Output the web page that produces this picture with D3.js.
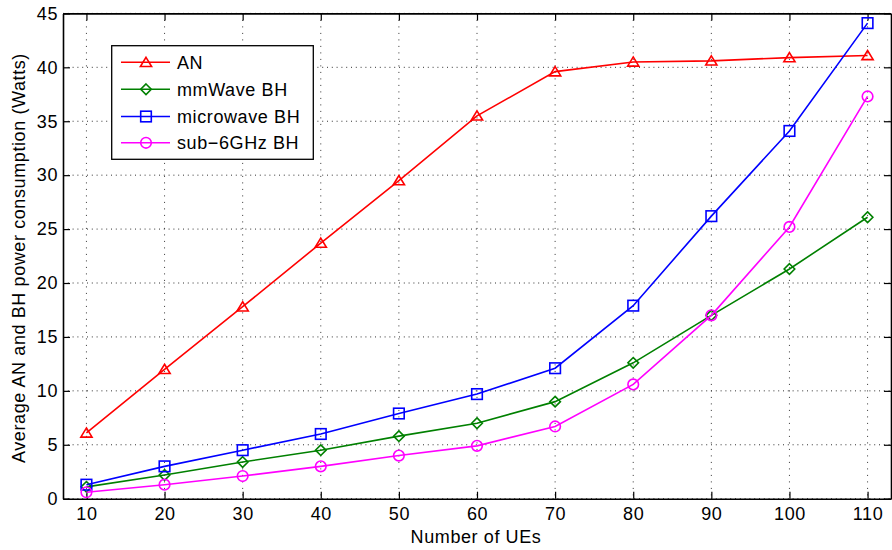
<!DOCTYPE html>
<html>
<head>
<meta charset="utf-8">
<script src="https://cdn.jsdelivr.net/npm/d3@7"></script>
<style>
  html, body { margin: 0; padding: 0; background: #fff; }
  svg { display: block; }
  text { font-family: "Liberation Sans", Arial, Helvetica, sans-serif; font-size: 18px; letter-spacing: 0.6px; fill: #000; }
</style>
</head>
<body>
<svg id="chart" width="892" height="550"></svg>
<script>
// Number of users on the x axis
const ues = [10, 20, 30, 40, 50, 60, 70, 80, 90, 100, 110];

// Average power consumption (Watts) for each curve
const anPower        = [6.1, 12.0, 17.8, 23.7, 29.5, 35.5, 39.6, 40.5, 40.6, 40.9, 41.1];
const mmWavePower    = [1.1, 2.2, 3.4, 4.5, 5.8, 7.0, 9.0, 12.6, 17.0, 21.3, 26.1];
const microwavePower = [1.3, 3.0, 4.5, 6.0, 7.9, 9.7, 12.1, 17.9, 26.2, 34.1, 44.1];
const sub6Power      = [0.6, 1.3, 2.1, 3.0, 4.0, 4.9, 6.7, 10.6, 17.0, 25.2, 37.3];

const seriesNames = ["AN", "mmWave BH", "microwave BH", "sub\u22126GHz BH"];
const xTicks = [10, 20, 30, 40, 50, 60, 70, 80, 90, 100, 110];
const yTicks = [0, 5, 10, 15, 20, 25, 30, 35, 40, 45];

const series = [
  { name: seriesNames[0], values: anPower,        color: "#ff0000", marker: "triangle" },
  { name: seriesNames[1], values: mmWavePower,    color: "#008000", marker: "diamond" },
  { name: seriesNames[2], values: microwavePower, color: "#0000ff", marker: "square" },
  { name: seriesNames[3], values: sub6Power,      color: "#ff00ff", marker: "circle" }
];

const svg = d3.select("#chart");
const plot = { left: 63, right: 891, top: 13.4, bottom: 498.7 };

const x = d3.scaleLinear().domain([7, 113]).range([plot.left, plot.right]);
const y = d3.scaleLinear().domain([0, 45]).range([plot.bottom, plot.top]);

// dotted grid
const grid = svg.append("g").attr("class", "grid");
grid.selectAll("line.gx").data(xTicks).join("line")
  .attr("x1", d => x(d)).attr("x2", d => x(d))
  .attr("y1", plot.top).attr("y2", plot.bottom)
  .attr("stroke", "#333").attr("stroke-width", 1)
  .attr("stroke-dasharray", "1,5.5");
grid.selectAll("line.gy").data(yTicks).join("line")
  .attr("x1", plot.left).attr("x2", plot.right)
  .attr("y1", d => y(d)).attr("y2", d => y(d))
  .attr("stroke", "#333").attr("stroke-width", 1)
  .attr("stroke-dasharray", "1,3.8");

// axes on all four sides, ticks pointing inward
const tickLen = -7;
const axisStyle = g => {
  g.attr("font-size", null).attr("font-family", null);
  g.select(".domain").attr("stroke", "#000").attr("stroke-width", 1.6);
  g.selectAll(".tick line").attr("stroke", "#000").attr("stroke-width", 1.2);
};
svg.append("g").attr("transform", `translate(0,${plot.bottom})`)
  .call(d3.axisBottom(x).tickValues(xTicks).tickSize(tickLen).tickSizeOuter(0).tickPadding(9))
  .call(axisStyle);
svg.append("g").attr("transform", `translate(0,${plot.top})`)
  .call(d3.axisTop(x).tickValues(xTicks).tickSize(tickLen).tickSizeOuter(0).tickFormat(""))
  .call(axisStyle);
svg.append("g").attr("transform", `translate(${plot.left},0)`)
  .call(d3.axisLeft(y).tickValues(yTicks).tickSize(tickLen).tickSizeOuter(0).tickPadding(5))
  .call(axisStyle);
svg.append("g").attr("transform", `translate(${plot.right},0)`)
  .call(d3.axisRight(y).tickValues(yTicks).tickSize(tickLen).tickSizeOuter(0).tickFormat(""))
  .call(axisStyle);

// marker shapes
function drawMarker(sel, type, color) {
  if (type === "circle") {
    sel.append("circle").attr("r", 5.3);
  } else if (type === "square") {
    sel.append("rect").attr("x", -5.3).attr("y", -5.3).attr("width", 10.6).attr("height", 10.6);
  } else if (type === "diamond") {
    sel.append("path").attr("d", "M0,-5.3L5.3,0L0,5.3L-5.3,0Z");
  } else {
    sel.append("path").attr("d", "M0,-5L5.6,4.2L-5.6,4.2Z");
  }
  sel.selectAll("*").attr("fill", "none").attr("stroke", color).attr("stroke-width", 1.6);
}

const line = d3.line().x((d, i) => x(ues[i])).y(d => y(d));

series.forEach(s => {
  const g = svg.append("g");
  g.append("path").datum(s.values)
    .attr("d", line)
    .attr("fill", "none").attr("stroke", s.color).attr("stroke-width", 1.6);
  g.selectAll("g.m").data(s.values).join("g")
    .attr("transform", (d, i) => `translate(${x(ues[i])},${y(d)})`)
    .each(function () { drawMarker(d3.select(this), s.marker, s.color); });
});

// legend
const legend = svg.append("g");
legend.append("rect")
  .attr("x", 111.7).attr("y", 45.7).attr("width", 201.6).attr("height", 113.6)
  .attr("fill", "#fff").attr("stroke", "#000").attr("stroke-width", 1.3);
const rowY = [62.3, 89.3, 116.5, 142.8];
series.forEach((s, i) => {
  const r = legend.append("g").attr("transform", `translate(0,${rowY[i]})`);
  r.append("line").attr("x1", 121).attr("x2", 170).attr("y1", 0).attr("y2", 0)
    .attr("stroke", s.color).attr("stroke-width", 1.6);
  const m = r.append("g").attr("transform", "translate(146,0)");
  drawMarker(m, s.marker, s.color);
  r.append("text").attr("x", 177).attr("y", 6.5).text(s.name);
});

// axis titles
svg.append("text")
  .attr("x", 476).attr("y", 543)
  .attr("text-anchor", "middle")
  .text("Number of UEs");
svg.append("text")
  .attr("transform", `translate(25,${(plot.top + plot.bottom) / 2 + 2}) rotate(-90)`)
  .attr("text-anchor", "middle")
  .text("Average AN and BH power consumption (Watts)");
</script>
</body>
</html>
